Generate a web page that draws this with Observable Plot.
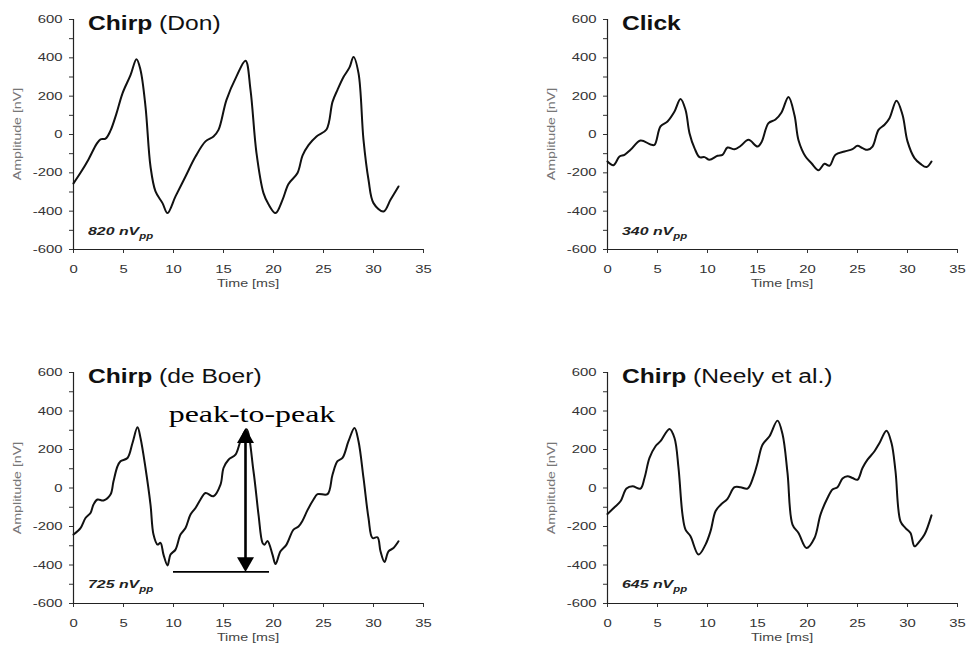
<!DOCTYPE html>
<html><head><meta charset="utf-8">
<script src="https://cdn.jsdelivr.net/npm/d3@7"></script>
<script src="https://cdn.jsdelivr.net/npm/@observablehq/plot@0.6"></script>
<style>
html,body{margin:0;padding:0;background:#fff;}
#fig{position:relative;width:967px;height:648px;overflow:hidden;font-family:Arial,"Liberation Sans",Helvetica,sans-serif;}
#fig svg{position:absolute;overflow:visible;}
.ov{position:absolute;white-space:nowrap;line-height:1;}
.title{font-size:20px;color:#111;transform-origin:0 0;transform:scaleX(1.23);}
.pp{font-size:11.5px;font-weight:bold;font-style:italic;color:#222;transform-origin:0 0;transform:scaleX(1.38);}
.pp span{font-size:0.72em;position:relative;top:0.4em;}
.ylab{font-size:10px;color:#777;transform:translate(-50%,-50%) rotate(-90deg) scaleX(1.42);}
.xlab{font-size:11px;color:#444;transform:translate(-50%,-50%) scaleX(1.3);}
</style></head>
<body><div id="fig"></div>
<script>
// ---- data ----
const xTicks = [0, 5, 10, 15, 20, 25, 30, 35];
const yTicks = [-600, -500, -400, -300, -200, -100, 0, 100, 200, 300, 400, 500, 600];
const titles = ["Chirp", "Click", "Chirp", "Chirp"];
const subtitles = [" (Don)", "", " (de Boer)", " (Neely et al.)"];
const ppValues = ["820", "340", "725", "645"];

const tDon = [0,0.7,1.5,2.3,2.7,3.2,3.7,4.3,4.9,5.7,6.3,6.7,7.2,7.7,8.2,8.9,9.4,10.2,11.2,12.2,13.2,14.0,14.5,15.3,16.3,17.2,17.7,18.3,19.0,19.5,20.2,20.9,21.5,22.4,22.9,23.5,24.3,25.3,25.9,26.4,27.0,27.6,28.0,28.5,29.0,29.5,30.0,31.0,31.7,32.5];
const vDon = [-255,-200,-130,-50,-25,-22,20,110,215,310,393,337,146,-167,-297,-358,-410,-323,-219,-115,-36,-10,24,181,303,385,233,-97,-306,-364,-410,-341,-258,-201,-110,-55,-10,26,170,233,300,350,405,320,-28,-236,-358,-402,-341,-271];

const tClick = [0,0.6,1.2,1.7,2.3,3.3,4.3,4.7,5.3,6.0,6.7,7.3,7.8,8.2,8.7,9.2,9.7,10.2,11.0,11.5,12.0,12.7,13.3,14.1,15.0,15.4,16.1,16.8,17.4,18.1,18.7,19.1,19.8,20.4,21.1,21.7,22.2,22.8,23.7,24.5,25.0,25.5,26.0,26.5,27.1,27.7,28.2,28.9,29.5,30.0,30.7,31.3,31.9,32.4];
const vClick = [-141,-160,-115,-106,-80,-31,-52,-54,42,68,120,185,129,7,-71,-118,-118,-132,-111,-106,-68,-77,-60,-28,-63,-40,59,78,115,196,100,-30,-115,-150,-186,-153,-163,-106,-89,-76,-59,-71,-80,-63,24,51,85,176,103,-36,-123,-153,-170,-141];

const tBoer = [0,0.7,1.2,1.7,2.0,2.4,3.0,3.7,4.0,4.4,4.7,5.4,5.9,6.4,6.7,7.2,7.7,8.0,8.4,8.7,9.0,9.4,9.7,10.2,10.7,11.2,11.7,12.2,12.7,13.2,14.0,14.7,15.0,15.5,16.2,16.7,17.3,18.0,18.5,18.9,19.1,19.4,19.9,20.2,20.7,21.3,22.0,22.5,22.9,23.4,24.0,24.4,25.4,25.9,26.4,26.9,27.5,28.1,28.5,29.0,29.5,29.9,30.4,30.7,31.1,31.5,32.0,32.5];
const vBoer = [-242,-208,-156,-130,-86,-60,-65,-34,35,113,139,156,234,315,260,104,-86,-242,-294,-285,-346,-402,-346,-320,-242,-208,-138,-104,-60,-26,-43,17,104,147,173,243,305,87,-138,-285,-295,-275,-346,-395,-329,-294,-216,-200,-170,-115,-60,-32,-32,69,139,156,243,312,243,52,-156,-260,-256,-329,-384,-329,-312,-277];

const tNeely = [0,0.7,1.3,1.9,2.5,3.3,3.7,4.2,4.8,5.3,6.2,6.7,7.1,7.5,7.8,8.3,9.1,9.8,10.3,10.8,11.3,12.0,12.7,13.3,14.0,14.6,15.0,15.5,16.2,17.0,17.5,18.0,18.5,19.1,19.9,20.7,21.3,22.0,22.5,23.0,23.5,24.0,24.5,25.0,25.5,26.0,26.7,27.2,27.9,28.4,28.8,29.3,29.8,30.3,30.7,31.2,31.7,32.4];
const vNeely = [-135,-100,-69,-3,9,-3,52,156,217,243,307,260,104,-138,-216,-251,-346,-294,-225,-121,-88,-56,4,4,-3,60,130,225,269,350,280,78,-190,-234,-312,-260,-138,-52,-8,4,49,61,52,43,104,147,191,234,298,234,87,-173,-208,-234,-303,-277,-242,-142];

// peak-to-peak annotation (de Boer panel)
const p2pTime = 17.2, p2pHigh = 310, p2pLow = -436;
const p2pBaseFrom = 10, p2pBaseTo = 19.6;
const p2pLabel = "peak-to-peak", p2pLabelTime = 17.85, p2pLabelAmp = 342;

const series = [[tDon, vDon], [tClick, vClick], [tBoer, vBoer], [tNeely, vNeely]];

// ---- layout ----
const layout = [
  {left: 0,   top: 0,   width: 483, frameH: 230, row: 0},
  {left: 534, top: 0,   width: 433, frameH: 230, row: 0},
  {left: 0,   top: 353, width: 483, frameH: 231, row: 1},
  {left: 534, top: 353, width: 433, frameH: 231, row: 1}
];
const ML = 73, MT = 19, MB = 50, FW = 350;
const TICK_SX = 1.35, PEAK_SX = 1.33;

const fig = document.getElementById("fig");

function stretchText(svg) {
  svg.querySelectorAll("text").forEach(el => {
    const s = el.textContent === p2pLabel ? PEAK_SX : TICK_SX;
    const tr = el.getAttribute("transform") || "";
    const x = parseFloat(el.getAttribute("x")) || 0;
    el.setAttribute("transform", `${tr} translate(${x},0) scale(${s},1) translate(${-x},0)`);
  });
}

function overlay(cls, html, x, y) {
  const d = document.createElement("div");
  d.className = "ov " + cls;
  d.innerHTML = html;
  d.style.left = x + "px";
  d.style.top = y + "px";
  fig.appendChild(d);
  return d;
}

series.forEach(([T, V], i) => {
  const L = layout[i];
  const data = T.map((t, j) => ({t, v: V[j]}));
  const marks = [
    Plot.axisY({ticks: yTicks, tickSize: 4, tickPadding: 7, fontSize: 11,
      tickFormat: d => (d % 200 === 0 ? String(d) : ""), label: null}),
    Plot.axisX({ticks: xTicks, tickSize: 4, tickPadding: 12, fontSize: 11,
      tickFormat: d => String(d), label: null}),
    Plot.ruleY([-600], {stroke: "#222", strokeWidth: 1.2}),
    Plot.ruleX([0], {stroke: "#222", strokeWidth: 1.2}),
    Plot.line(data, {x: "t", y: "v", curve: "catmull-rom", stroke: "#111", strokeWidth: 2})
  ];
  if (i === 2) {
    const a = [{t: p2pTime, hi: p2pHigh, lo: p2pLow}];
    marks.push(
      Plot.ruleY([{v: p2pLow, t1: p2pBaseFrom, t2: p2pBaseTo}], {y: "v", x1: "t1", x2: "t2", stroke: "#000", strokeWidth: 1.8}),
      Plot.ruleX(a, {x: "t", y1: "hi", y2: "lo", insetTop: 10, insetBottom: 10, stroke: "#000", strokeWidth: 2.6}),
      Plot.dot(a, {x: "t", y: "hi", symbol: "triangle", r: 6.3, fill: "#000", dy: 9.8}),
      Plot.dot(a, {x: "t", y: "lo", symbol: "triangle", r: 6.3, fill: "#000", rotate: 180, dy: -9.8}),
      Plot.text([{t: p2pLabelTime, v: p2pLabelAmp}], {x: "t", y: "v", text: () => p2pLabel,
        fontFamily: "'Liberation Serif','Times New Roman',serif", fontSize: 24, fill: "#000",
        textAnchor: "middle", lineAnchor: "bottom"})
    );
  }
  const svg = Plot.plot({
    width: L.width, height: MT + L.frameH + MB,
    marginLeft: ML, marginRight: L.width - ML - FW, marginTop: MT, marginBottom: MB,
    x: {domain: [0, 35]}, y: {domain: [-600, 600]},
    style: {fontFamily: "Arial, 'Liberation Sans', sans-serif", color: "#333", background: "transparent", overflow: "visible"},
    marks
  });
  svg.style.left = L.left + "px";
  svg.style.top = L.top + "px";
  stretchText(svg);
  fig.appendChild(svg);

  const frameTop = L.top + MT, frameBottom = frameTop + L.frameH, axisX = L.left + ML;
  overlay("title", `<b>${titles[i]}</b>${subtitles[i]}`, axisX + 15, frameTop + 11 - 20 * 0.8465);
  overlay("pp", `${ppValues[i]} nV<span>pp</span>`, axisX + 15, frameTop + 217 - 11.5 * 0.8465);
  overlay("ylab", "Amplitude [nV]", axisX - 55.5, frameTop + L.frameH / 2);
  overlay("xlab", "Time [ms]", axisX + FW / 2, frameBottom + 34);
});
</script></body></html>
